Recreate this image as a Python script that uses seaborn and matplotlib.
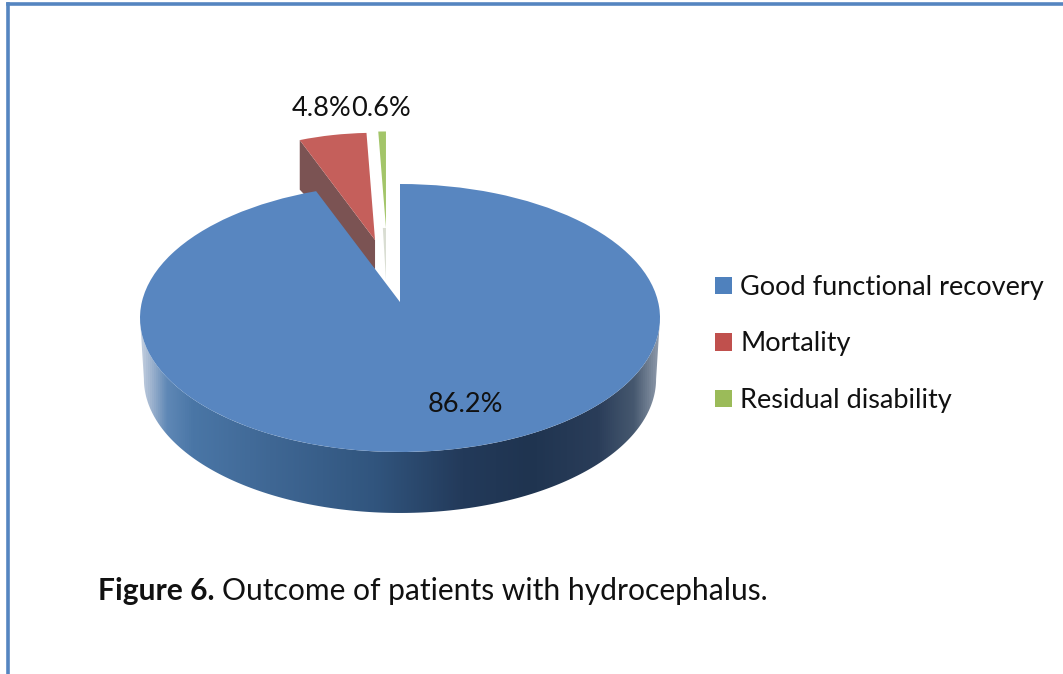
import numpy as np
import seaborn as sns
import matplotlib.pyplot as plt
from matplotlib.colors import LinearSegmentedColormap
from matplotlib.patches import Patch, Polygon

# datos del grafico
categorias = ["Good functional recovery", "Mortality", "Residual disability"]
valores = [86.2, 4.8, 0.6]

sns.set_theme(style="white")
plt.rcParams["font.family"] = ["Lato", "DejaVu Sans"]

W, H = 1063, 674
fig = plt.figure(figsize=(W / 100, H / 100), dpi=100, facecolor="white")

# marco azul arriba y a la izquierda
marco = fig.add_axes([8 / W, 0, 1 - 8 / W, 1 - 4 / H])
marco.set(xticks=[], yticks=[])
sns.despine(ax=marco, top=False, left=False, right=True, bottom=True)
for lado in ["top", "left"]:
    marco.spines[lado].set_color("#5585c0")
    marco.spines[lado].set_linewidth(2.6)

# ejes de la torta: elipse con centro (400,318), rx 260, ry 134 en pixeles
RX, RY, CX, CY = 260, 134, 400, 318
x0, x1, y0, y1 = -1.1, 1.1, -1.55, 1.5
ax = fig.add_axes([(CX + x0 * RX) / W, 1 - (CY - y0 * RY) / H, (x1 - x0) * RX / W, (y1 - y0) * RY / H])
ax.patch.set_alpha(0)

caras = ["#5886c0", "#c55f5b", "#a3c569"]
wedges, _ = ax.pie(valores, colors=caras, startangle=90, counterclock=False,
                   wedgeprops={"linewidth": 0, "zorder": 5})
ax.set_aspect("auto")
ax.set_xlim(x0, x1)
ax.set_ylim(y0, y1)

# la perspectiva abre un poco el borde izquierdo de la porcion azul
wedges[0].set_theta1(wedges[0].theta1 - 2.4)
# vertice de la porcion azul corrido hacia arriba
vert = wedges[0].get_path().vertices
vert[np.all(np.isclose(vert, 0), axis=1)] = (0, 0.119)

# porciones separadas
wedges[1].set_center((-0.096, 0.582))
wedges[1].set_radius(0.80)
wedges[1].set_zorder(3)
wedges[2].set_center((-0.054, 0.672))
wedges[2].set_radius(0.72)
wedges[2].set_zorder(3)

# pared lateral de la porcion azul con degradado
t = np.linspace(np.pi, 2 * np.pi, 200)
borde_sup = np.column_stack([np.cos(t), np.sin(t)])
borde_inf = np.column_stack([0.985 * np.cos(t), np.sin(t) - 0.455])[::-1]
pared = Polygon(np.vstack([borde_sup, borde_inf]), closed=True, facecolor="none", edgecolor="none")
ax.add_patch(pared)
degradado = LinearSegmentedColormap.from_list("pared", [
    (0.0, "#c5d0e0"), (0.02, "#9fb4cf"), (0.05, "#5f88b6"), (0.1, "#4a76a6"), (0.25, "#3f6794"),
    (0.45, "#31557e"), (0.62, "#233a5a"), (0.75, "#1f3450"), (0.88, "#2a3d59"), (0.95, "#46586f"),
    (1.0, "#939eae")])
img = ax.imshow(np.linspace(0, 1, 512)[None, :], cmap=degradado, extent=(-1, 1, -1.5, 0), aspect="auto", zorder=2)
img.set_clip_path(pared)
ax.set_xlim(x0, x1)
ax.set_ylim(y0, y1)

# pared interna de la porcion roja y de la verde
cr = wedges[1].center
th = np.deg2rad(wedges[1].theta2)
esq = (cr[0] + 0.80 * np.cos(th), cr[1] + 0.80 * np.sin(th))
ax.add_patch(Polygon([esq, cr, (cr[0], cr[1] - 0.22), (esq[0], esq[1] - 0.37)], closed=True,
                     facecolor="#7b5353", edgecolor="none", zorder=2.5))
cv = wedges[2].center
ax.add_patch(Polygon([cv, (cv[0] - 0.012, cv[1]), (cv[0], cv[1] - 0.39)], closed=True,
                     facecolor="#d9ddd2", edgecolor="none", zorder=2.5))

# etiquetas
tam = 19.5
fig.text(465 / W, 1 - 404 / H, f"{valores[0]}%", ha="center", va="center", fontsize=tam, color="#111111")
fig.text(322 / W, 1 - 108 / H, f"{valores[1]}%", ha="center", va="center", fontsize=tam, color="#111111")
fig.text(381 / W, 1 - 108 / H, f"{valores[2]}%", ha="center", va="center", fontsize=tam, color="#111111")

# leyenda
colores_ley = ["#4f81bd", "#c0504d", "#9bbb59"]
manijas = [Patch(facecolor=c, edgecolor="none") for c in colores_ley]
fig.legend(manijas, categorias, loc="center left", bbox_to_anchor=(691 / W, 1 - 344 / H), frameon=False,
           fontsize=19.5, handlelength=0.63, handleheight=0.63, handletextpad=0.28, labelspacing=1.16,
           labelcolor="#111111")

# pie de figura
fig.text(98 / W, 1 - 591 / H, "Figure 6.", fontsize=21.6, fontweight="bold", va="center", color="#111111")
fig.text(222 / W, 1 - 591 / H, "Outcome of patients with hydrocephalus.", fontsize=21.6, va="center", color="#111111")

fig.savefig("out.png", dpi=100)
